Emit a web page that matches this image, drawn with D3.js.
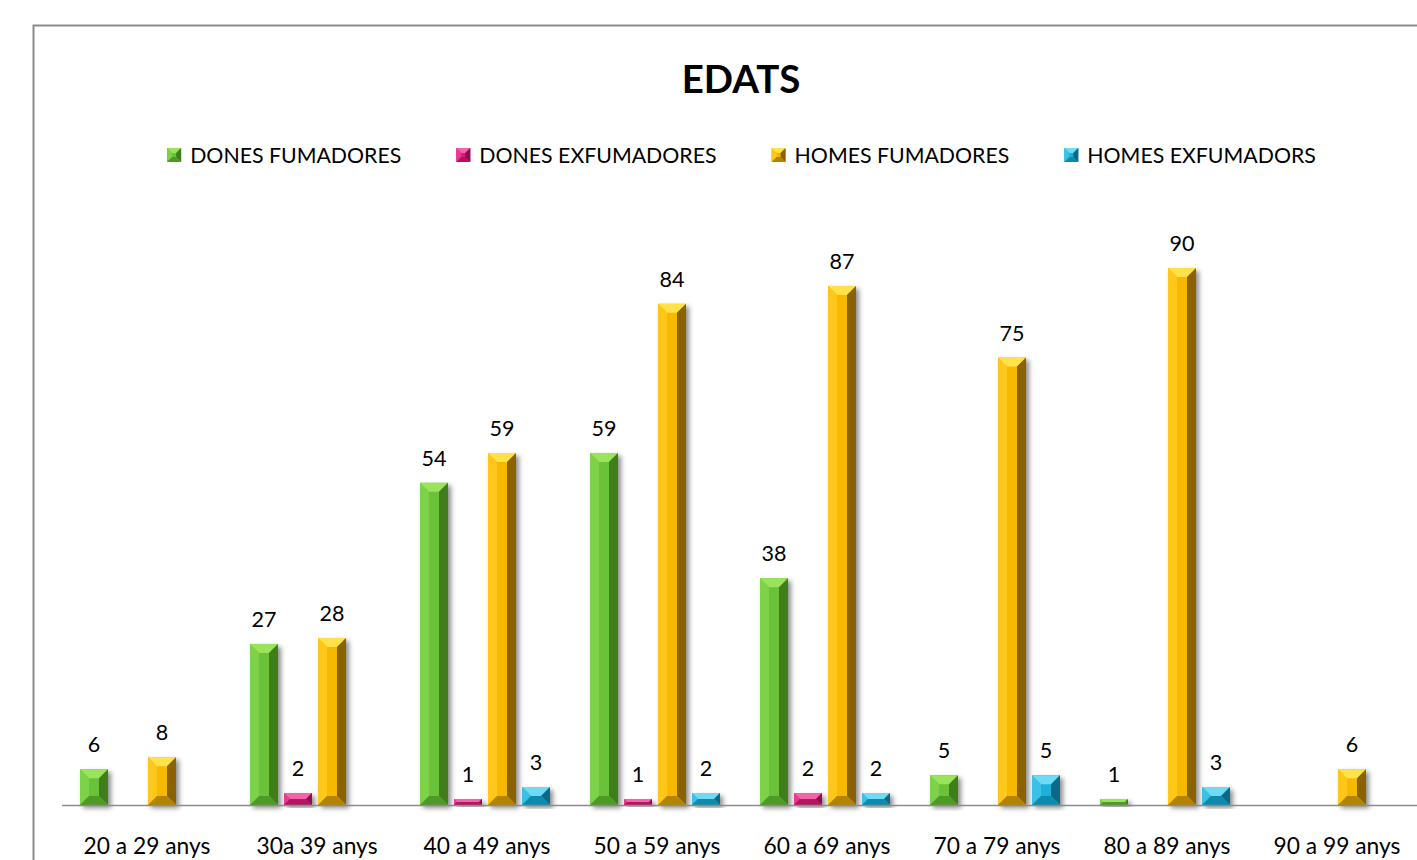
<!DOCTYPE html>
<html><head><meta charset="utf-8">
<script src="https://cdn.jsdelivr.net/npm/d3@7/dist/d3.min.js"></script>
<style>body{margin:0;background:#fff;}svg{display:block;font-family:Lato,"Open Sans",sans-serif;}</style>
</head><body>
<svg id="chart" width="1417" height="860"></svg>
<script>
const categories = ["20 a 29 anys","30a 39 anys","40 a 49 anys","50 a 59 anys","60 a 69 anys","70 a 79 anys","80 a 89 anys","90 a 99 anys"];
const seriesNames = ["DONES FUMADORES","DONES EXFUMADORES","HOMES FUMADORES","HOMES EXFUMADORS"];
const donesFumadores   = [6, 27, 54, 59, 38, 5, 1, null];
const donesExfumadores = [null, 2, 1, 1, 2, null, null, null];
const homesFumadores   = [8, 28, 59, 84, 87, 75, 90, 6];
const homesExfumadors  = [null, null, 3, 2, 2, 5, 3, null];
const seriesValues = [donesFumadores, donesExfumadores, homesFumadores, homesExfumadors];
const title = "EDATS";

const colors = [
  {main:"#6ac23a", light:"#9ae45c", side:"#7ed248", dark:"#3f7e1c", bottom:"#4f9a26"},
  {main:"#df1a7c", light:"#f562a8", side:"#e83a8e", dark:"#8e0c4c", bottom:"#b01262"},
  {main:"#f6b800", light:"#ffe24a", side:"#ffc61a", dark:"#8a6200", bottom:"#b48400"},
  {main:"#1eb0da", light:"#6edaf4", side:"#3cc0e6", dark:"#0b6888", bottom:"#118aae"}
];

const svg = d3.select("#chart");
const defs = svg.append("defs");
const f = defs.append("filter").attr("id","sh").attr("x","-30%").attr("y","-10%").attr("width","170%").attr("height","130%");
f.append("feDropShadow").attr("dx",3).attr("dy",3).attr("stdDeviation",2.5).attr("flood-color","#000").attr("flood-opacity",0.45);

// outer border
svg.append("path").attr("d","M33.5,870 V25.5 H1430").attr("fill","none").attr("stroke","#8c8c8c").attr("stroke-width",2);

const x0 = d3.scaleBand().domain(categories).range([63, 63 + 170*categories.length]).padding(0);
const x1 = d3.scaleBand().domain(seriesNames).range([17, 147]).paddingInner(6/34).paddingOuter(0);
const y = d3.scaleLinear().domain([0, 90]).range([805, 268]);

// title
svg.append("text").attr("x",741).attr("y",93).attr("text-anchor","middle")
  .attr("font-size",38.5).attr("font-weight","bold").attr("fill","#000").text(title);

// legend
const lg = svg.append("g");
const items = lg.selectAll("g").data(seriesNames).join("g");
items.append("text").attr("y",163).attr("font-size",21.3).attr("fill","#000").text(d=>d);
let widths = [];
items.each(function(){ widths.push(d3.select(this).select("text").node().getComputedTextLength()); });
const marker = 14, mgap = 9, igap = 55;
const total = widths.reduce((a,w)=>a+marker+mgap+w,0) + igap*(widths.length-1);
let cx = 741.5 - total/2;
items.each(function(d,i){
  const g = d3.select(this);
  g.attr("transform",`translate(${cx},0)`);
  g.select("text").attr("x", marker+mgap);
  drawBevel(g.append("g"), 0, 148, marker, marker, colors[i], 5);
  cx += marker+mgap+widths[i]+igap;
});

function drawBevel(g, x, yy, w, h, c, maxB){
  const b = Math.min(maxB, w/2, h/2);
  const p = pts => pts.map(q=>q.join(",")).join(" ");
  g.append("rect").attr("x",x).attr("y",yy).attr("width",w).attr("height",h).attr("fill",c.main);
  g.append("polygon").attr("points",p([[x,yy],[x+w,yy],[x+w-b,yy+b],[x+b,yy+b]])).attr("fill",c.light);
  g.append("polygon").attr("points",p([[x,yy],[x+b,yy+b],[x+b,yy+h-b],[x,yy+h]])).attr("fill",c.side);
  g.append("polygon").attr("points",p([[x+w,yy],[x+w,yy+h],[x+w-b,yy+h-b],[x+w-b,yy+b]])).attr("fill",c.dark);
  g.append("polygon").attr("points",p([[x,yy+h],[x+b,yy+h-b],[x+w-b,yy+h-b],[x+w,yy+h]])).attr("fill",c.bottom);
}

// bars
const bars = svg.append("g");
categories.forEach((cat, ci) => {
  seriesNames.forEach((s, si) => {
    const v = seriesValues[si][ci];
    if (v == null) return;
    const bx = x0(cat) + x1(s), bw = x1.bandwidth();
    const by = y(v), bh = y(0) - y(v);
    const g = bars.append("g").attr("filter","url(#sh)");
    drawBevel(g, bx, by, bw, bh, colors[si], 9);
    bars.append("text").attr("x", bx + bw/2).attr("y", by - 17).attr("text-anchor","middle")
      .attr("font-size",21.5).attr("fill","#000").text(v);
  });
});

// baseline
svg.append("line").attr("x1",62).attr("x2",1417).attr("y1",805.5).attr("y2",805.5).attr("stroke","#8c8c8c").attr("stroke-width",1.5);

// category axis labels
svg.append("g").selectAll("text").data(categories).join("text")
  .attr("x", d => x0(d) + x0.bandwidth()/2 - 1).attr("y", 854).attr("text-anchor","middle")
  .attr("font-size",22.8).attr("fill","#000").text(d=>d);
</script>
</body></html>
